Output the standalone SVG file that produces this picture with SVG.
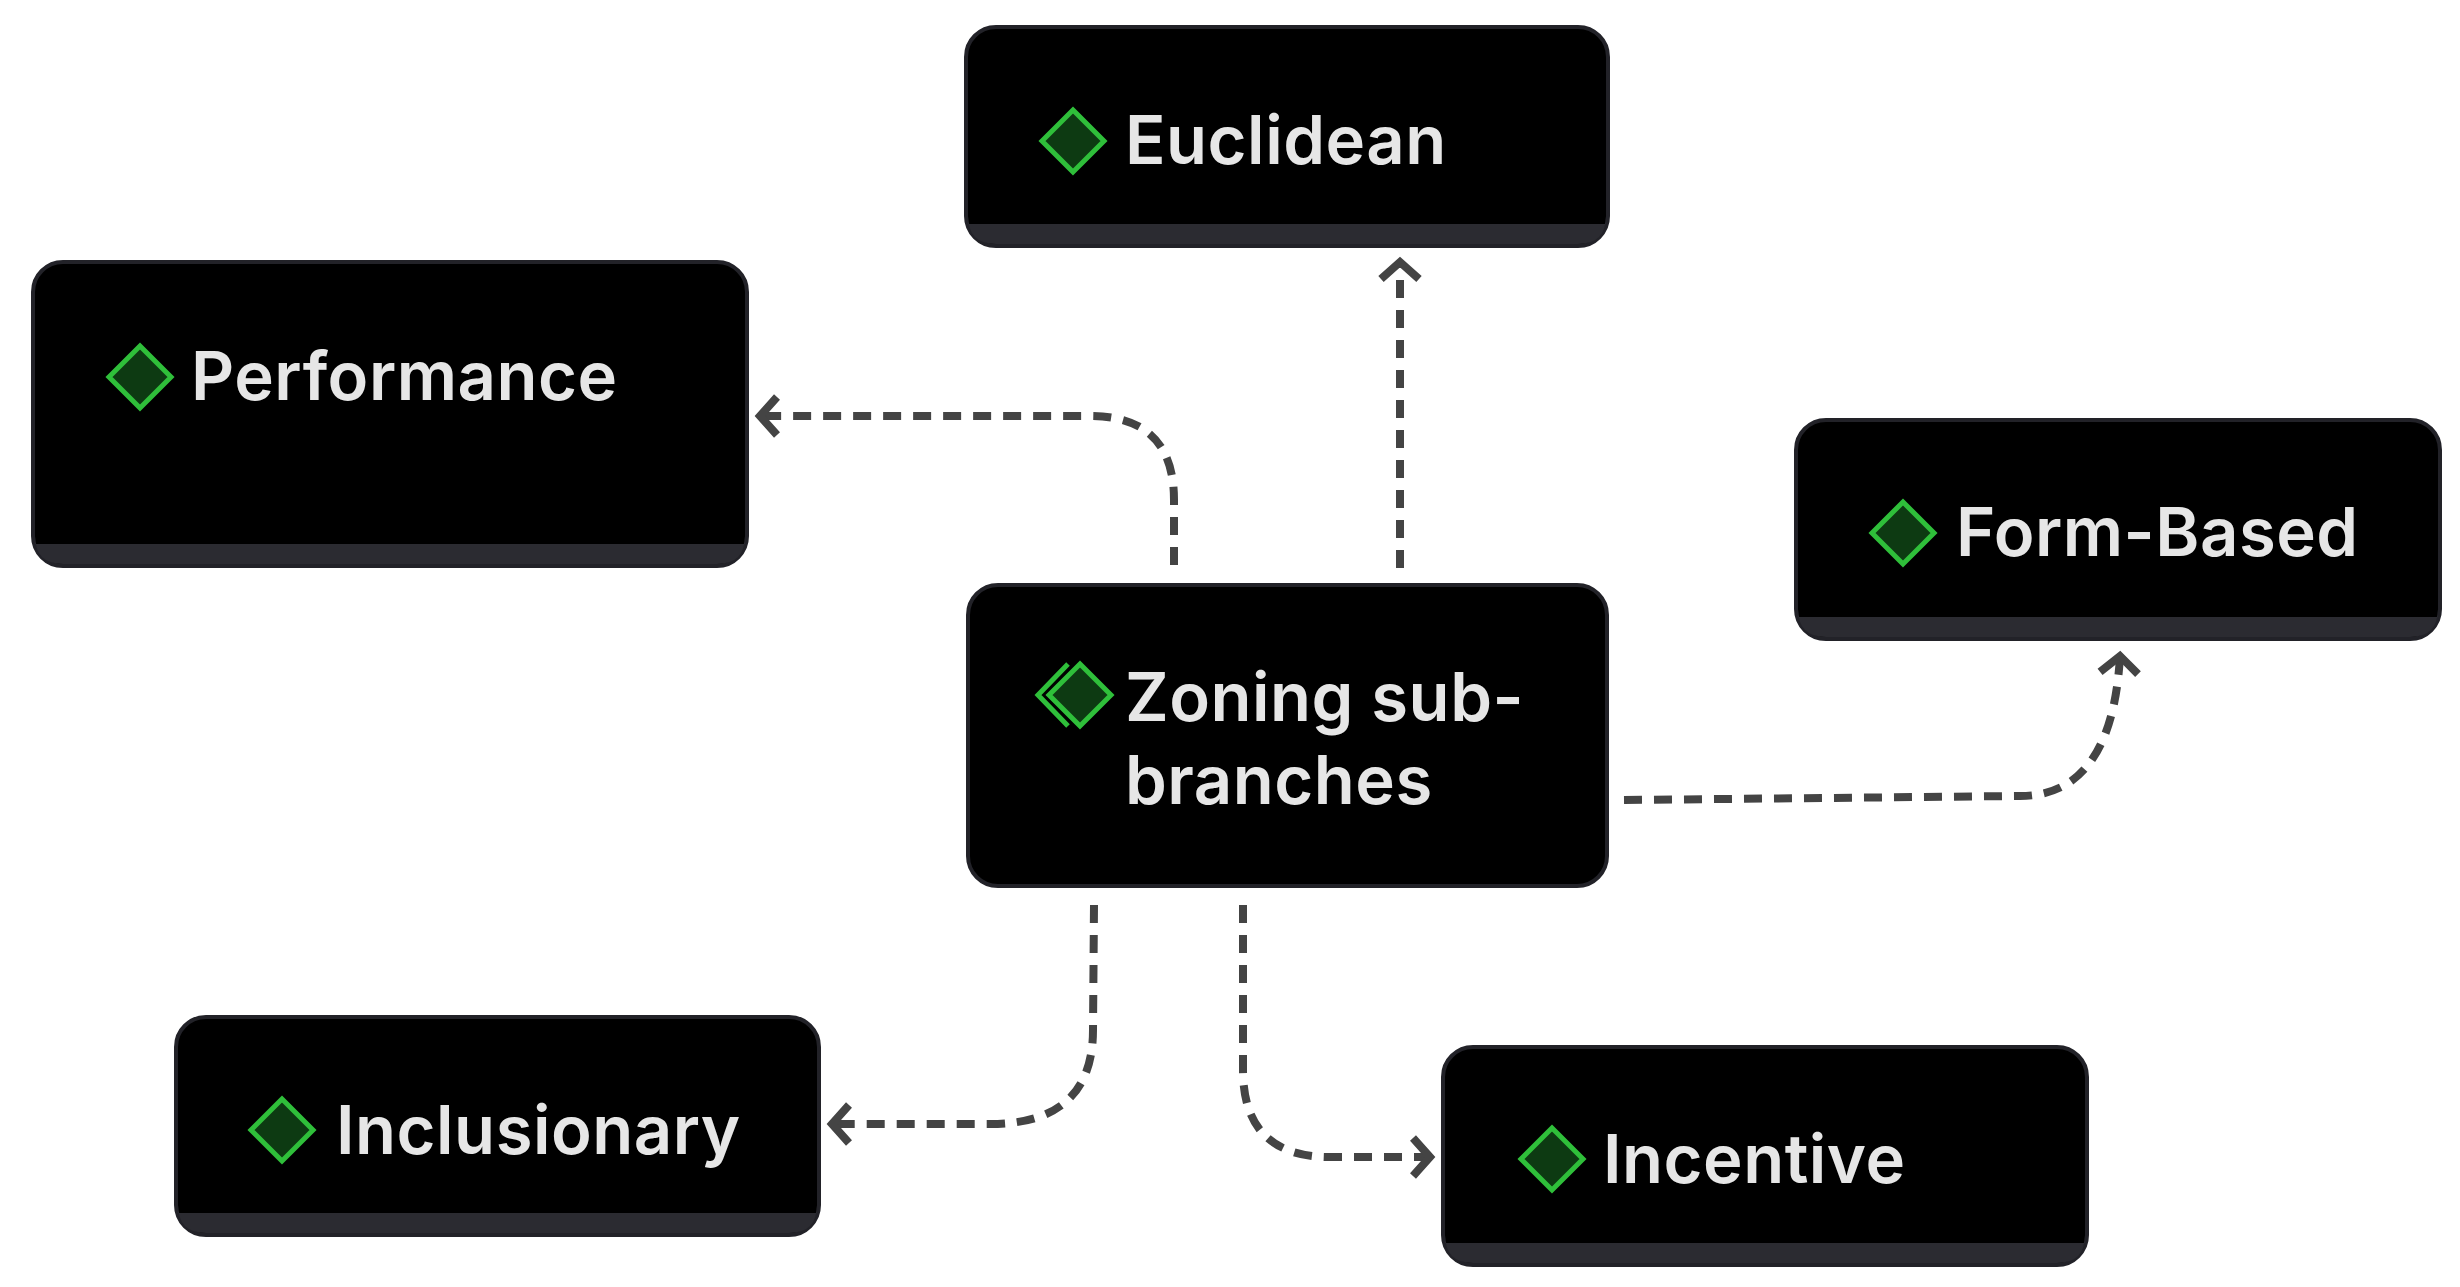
<svg xmlns="http://www.w3.org/2000/svg" width="2460" height="1287" viewBox="0 0 2460 1287">
<style>
.box{fill:#000;stroke:#222228;stroke-width:4}
.band{fill:#2b2b31}
.lbl{font-family:"Inter","Liberation Sans",sans-serif;font-size:67px;font-weight:600;fill:#e6e6e6;letter-spacing:0.5px}
.ic{fill:#0d3a12;stroke:#2fbf3a;stroke-width:5}
.ed{fill:none;stroke:#444;stroke-width:8;stroke-dasharray:18 12}
</style>
<defs>
<marker id="ah" markerUnits="userSpaceOnUse" markerWidth="50" markerHeight="50" viewBox="-25 -25 50 50" refX="0" refY="0" orient="auto">
<path d="M-17,-19 L0,0 L-17,19" fill="none" stroke="#444" stroke-width="8"/>
</marker>
</defs>
<rect width="2460" height="1287" fill="#fff"/>
<g id="connectors">
<path class="ed" d="M1400,568 L1400,262" marker-end="url(#ah)"/>
<path class="ed" d="M1174,565 L1174,500 Q1174,416 1090,416 L760,416" marker-end="url(#ah)"/>
<path class="ed" d="M1624,800 L2020,796 Q2112,796 2120,656" marker-end="url(#ah)"/>
<path class="ed" d="M1094,905 L1093,1030 Q1093,1124 990,1124 L832,1124" marker-end="url(#ah)"/>
<path class="ed" d="M1243,905 L1243,1070 Q1243,1157 1330,1157 L1430,1157" marker-end="url(#ah)"/>
</g>
<g id="euclidean">
<rect class="box" x="966" y="27" width="642" height="219" rx="30"/>
<path class="band" d="M968,224 H1606 V216 Q1606,244 1578,244 H996 Q968,244 968,216 Z"/>
<path class="ic" d="M1073,110 L1104,141 L1073,172 L1042,141 Z"/>
<text class="lbl" x="1125" y="164">Euclidean</text>
</g>
<g id="performance">
<rect class="box" x="33" y="262" width="714" height="304" rx="30"/>
<path class="band" d="M35,544 H745 V536 Q745,564 717,564 H63 Q35,564 35,536 Z"/>
<path class="ic" d="M140,346 L171,377 L140,408 L109,377 Z"/>
<text class="lbl" x="191" y="400">Performance</text>
</g>
<g id="formbased">
<rect class="box" x="1796" y="420" width="644" height="219" rx="30"/>
<path class="band" d="M1798,617 H2438 V609 Q2438,637 2410,637 H1826 Q1798,637 1798,609 Z"/>
<path class="ic" d="M1903,502 L1934,533 L1903,564 L1872,533 Z"/>
<text class="lbl" x="1956" y="556">Form-Based</text>
</g>
<g id="center">
<rect class="box" x="968" y="585" width="639" height="301" rx="30"/>
<path d="M1068,664 L1038,695 L1068,726" fill="none" stroke="#2fbf3a" stroke-width="5"/>
<path class="ic" d="M1080,664 L1111,695 L1080,726 L1049,695 Z"/>
<text class="lbl" x="1125" y="721">Zoning sub-</text>
<text class="lbl" x="1125" y="804">branches</text>
</g>
<g id="inclusionary">
<rect class="box" x="176" y="1017" width="643" height="218" rx="30"/>
<path class="band" d="M178,1213 H817 V1205 Q817,1233 789,1233 H206 Q178,1233 178,1205 Z"/>
<path class="ic" d="M282,1099 L313,1130 L282,1161 L251,1130 Z"/>
<text class="lbl" x="336" y="1154">Inclusionary</text>
</g>
<g id="incentive">
<rect class="box" x="1443" y="1047" width="644" height="218" rx="30"/>
<path class="band" d="M1445,1243 H2085 V1235 Q2085,1263 2057,1263 H1473 Q1445,1263 1445,1235 Z"/>
<path class="ic" d="M1552,1128 L1583,1159 L1552,1190 L1521,1159 Z"/>
<text class="lbl" x="1603" y="1183">Incentive</text>
</g>
</svg>
